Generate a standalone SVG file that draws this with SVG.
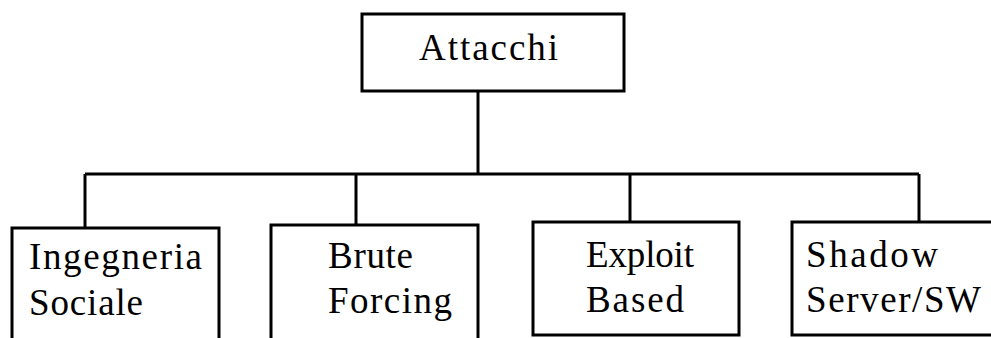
<svg xmlns="http://www.w3.org/2000/svg" width="991" height="338" viewBox="0 0 991 338">
<style>
.box{fill:#fff;stroke:#000;stroke-width:3}
.ln{fill:none;stroke:#000;stroke-width:3}
.t{font-family:"Liberation Serif","Times New Roman",serif;font-size:37px;fill:#000}
</style>
<rect width="991" height="338" fill="#fff"/>
<g id="connectors">
<line class="ln" x1="478" y1="91" x2="478" y2="174"/>
<line class="ln" x1="85" y1="174" x2="919" y2="174"/>
<line class="ln" x1="85" y1="174" x2="85" y2="228"/>
<line class="ln" x1="356" y1="174" x2="356" y2="225"/>
<line class="ln" x1="630" y1="174" x2="630" y2="222"/>
<line class="ln" x1="919" y1="174" x2="919" y2="222"/>
</g>
<g id="attacchi">
<rect class="box" x="362" y="14" width="262" height="77"/>
<text class="t" x="419" y="60" textLength="139" lengthAdjust="spacing">Attacchi</text>
</g>
<g id="ingegneria">
<rect class="box" x="12" y="228" width="207" height="130"/>
<text class="t" x="29" y="269" textLength="173" lengthAdjust="spacing">Ingegneria</text>
<text class="t" x="29" y="315" textLength="114" lengthAdjust="spacing">Sociale</text>
</g>
<g id="brute">
<rect class="box" x="271" y="225" width="207" height="130"/>
<text class="t" x="328" y="268" textLength="85" lengthAdjust="spacing">Brute</text>
<text class="t" x="328" y="313" textLength="124" lengthAdjust="spacing">Forcing</text>
</g>
<g id="exploit">
<rect class="box" x="533" y="222" width="206" height="113"/>
<text class="t" x="586" y="267" textLength="108" lengthAdjust="spacing">Exploit</text>
<text class="t" x="586" y="312" textLength="98" lengthAdjust="spacing">Based</text>
</g>
<g id="shadow">
<rect class="box" x="792" y="222" width="220" height="113"/>
<text class="t" x="806" y="267" textLength="132" lengthAdjust="spacing">Shadow</text>
<text class="t" x="806" y="312" textLength="175" lengthAdjust="spacing">Server/SW</text>
</g>
</svg>
